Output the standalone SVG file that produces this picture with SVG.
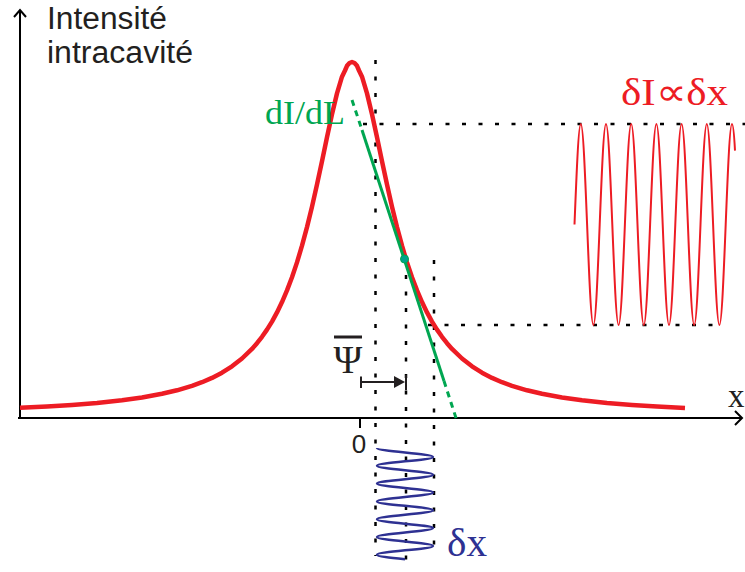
<svg xmlns="http://www.w3.org/2000/svg" width="745" height="572" viewBox="0 0 745 572">
<style>
.axis{stroke:#000;stroke-width:2;fill:none}
.dot{stroke:#000;stroke-width:2.5;stroke-dasharray:4 12.5;fill:none}
.sans{font-family:"Liberation Sans",Arial,sans-serif;fill:#231f20}
.serif{font-family:"Liberation Serif","Times New Roman",serif}
</style>
<rect width="745" height="572" fill="#fff"/>
<g id="guides">
<line class="dot" x1="375.5" y1="60" x2="375.5" y2="556"/>
<line class="dot" x1="406" y1="275" x2="406" y2="568"/>
<line class="dot" x1="434" y1="260" x2="434" y2="549"/>
<line class="dot" x1="363" y1="124" x2="745" y2="124"/>
<line class="dot" x1="428" y1="325" x2="725" y2="325"/>
</g>
<g id="axes">
<line class="axis" x1="20" y1="418" x2="20" y2="11"/>
<polyline class="axis" points="14,17 20,10 26,17"/>
<line class="axis" x1="18" y1="418" x2="742" y2="418"/>
<polyline class="axis" points="735,411 742,418 735,425"/>
<line class="axis" x1="360" y1="418" x2="360" y2="428"/>
</g>
<g id="lorentzian">
<polyline fill="none" stroke="#ed1c24" stroke-width="4.5" stroke-linejoin="round" stroke-linecap="butt" points="20,407.8 47,406.5 72,404.9 97,402.9 122,400.3 142,397.5 162,393.8 177,390.3 192,385.9 202,382.2 212,377.9 222,372.65 232,366.3 242,358.5 252,348.9 257,343.2 262,336.8 267,329.65 272,321.6 277,312.4 282,302.1 287,290.4 292,277.2 297,262.4 302,245.7 307,227.1 312,206.7 317,184.5 322,161.2 327,137.3 332,114.2 337,93.4 342,76.7 345,70.5 347,65.8 349.5,63 352,62 354.5,63 357,65.8 359,70.5 362,76.7 367,93.4 372,114.2 377,137.3 382,161.2 387,184.5 392,206.7 397,227.1 402,245.7 407,262.4 412,277.2 417,290.4 422,302.1 427,312.4 432,321.6 437,329.65 442,336.8 447,343.2 452,348.9 462,358.5 472,366.3 482,372.65 492,377.9 502,382.2 512,385.9 527,390.3 542,393.8 562,397.5 582,400.3 607,402.9 632,404.9 657,406.5 685,407.9"/>
</g>
<g id="tangent">
<line x1="352" y1="100" x2="362" y2="130" stroke="#00a651" stroke-width="3" stroke-dasharray="6 5"/>
<line x1="362" y1="130" x2="444" y2="381" stroke="#00a651" stroke-width="3"/>
<line x1="444" y1="381" x2="457" y2="421" stroke="#00a651" stroke-width="3" stroke-dasharray="6 5"/>
<circle cx="404.5" cy="259" r="4" fill="#00a38a" stroke="#00a651" stroke-width="1"/>
</g>
<g id="intensity-signal">
<path fill="none" stroke="#ed1c24" stroke-width="2" d="M574.5,224.5
c2.054,-51.5 4.02,-100.5 6.3,-100.5 c2.28,0 4.246,49 6.3,100.5 c2.054,51.5 4.02,100.5 6.3,100.5 c2.28,0 4.246,-49 6.3,-100.5
c2.054,-51.5 4.02,-100.5 6.3,-100.5 c2.28,0 4.246,49 6.3,100.5 c2.054,51.5 4.02,100.5 6.3,100.5 c2.28,0 4.246,-49 6.3,-100.5
c2.054,-51.5 4.02,-100.5 6.3,-100.5 c2.28,0 4.246,49 6.3,100.5 c2.054,51.5 4.02,100.5 6.3,100.5 c2.28,0 4.246,-49 6.3,-100.5
c2.054,-51.5 4.02,-100.5 6.3,-100.5 c2.28,0 4.246,49 6.3,100.5 c2.054,51.5 4.02,100.5 6.3,100.5 c2.28,0 4.246,-49 6.3,-100.5
c2.054,-51.5 4.02,-100.5 6.3,-100.5 c2.28,0 4.246,49 6.3,100.5 c2.054,51.5 4.02,100.5 6.3,100.5 c2.28,0 4.246,-49 6.3,-100.5
c2.054,-51.5 4.02,-100.5 6.3,-100.5 c2.28,0 4.246,49 6.3,100.5 c2.054,51.5 4.02,100.5 6.3,100.5 c2.28,0 4.246,-49 6.3,-100.5
c2.054,-51.5 4.02,-100.5 6.3,-100.5 c1.2,0 2.2,12 3,26.6"/>
</g>
<g id="position-signal">
<path fill="none" stroke="#2e3192" stroke-width="2.5" d="M377,448
c0,1.61 13.65,3 28,4.45 c14.34,1.45 28,2.84 28,4.45 c0,1.61 -13.65,3 -28,4.45 c-14.34,1.45 -28,2.84 -28,4.45
c0,1.61 13.65,3 28,4.45 c14.34,1.45 28,2.84 28,4.45 c0,1.61 -13.65,3 -28,4.45 c-14.34,1.45 -28,2.84 -28,4.45
c0,1.61 13.65,3 28,4.45 c14.34,1.45 28,2.84 28,4.45 c0,1.61 -13.65,3 -28,4.45 c-14.34,1.45 -28,2.84 -28,4.45
c0,1.61 13.65,3 28,4.45 c14.34,1.45 28,2.84 28,4.45 c0,1.61 -13.65,3 -28,4.45 c-14.34,1.45 -28,2.84 -28,4.45
c0,1.61 13.65,3 28,4.45 c14.34,1.45 28,2.84 28,4.45 c0,1.61 -13.65,3 -28,4.45 c-14.34,1.45 -28,2.84 -28,4.45
c0,1.61 13.65,3 28,4.45 c14.34,1.45 28,2.84 28,4.45 c0,1.61 -13.65,3 -28,4.45 c-14.34,1.45 -28,2.84 -28,4.45
c0,1.61 13.65,3 28,4.45"/>
</g>
<g id="psi-offset">
<line x1="361" y1="382" x2="396" y2="382" stroke="#231f20" stroke-width="2"/>
<line x1="361" y1="376.5" x2="361" y2="388" stroke="#231f20" stroke-width="2"/>
<polygon points="394,376 405,382 394,388" fill="#231f20"/>
<line x1="406" y1="375" x2="406" y2="390" stroke="#231f20" stroke-width="2"/>
<line x1="334" y1="337" x2="362" y2="337" stroke="#231f20" stroke-width="3"/>
<text class="serif" x="348" y="373" font-size="39" text-anchor="middle" fill="#231f20">Ψ</text>
</g>
<g id="labels">
<text class="sans" x="47" y="29" font-size="31" textLength="120" lengthAdjust="spacingAndGlyphs">Intensité</text>
<text class="sans" x="47" y="63" font-size="31" textLength="146" lengthAdjust="spacingAndGlyphs">intracavité</text>
<text class="serif" x="265" y="124" font-size="34" fill="#00a651" textLength="80" lengthAdjust="spacingAndGlyphs">dI/dL</text>
<text class="serif" x="621" y="105" font-size="38" fill="#ed1c24" textLength="107" lengthAdjust="spacingAndGlyphs">δI∝δx</text>
<text class="serif" x="447" y="556" font-size="40" fill="#2e3192" textLength="40" lengthAdjust="spacingAndGlyphs">δx</text>
<text class="sans" x="359" y="453" font-size="26" text-anchor="middle">0</text>
<text class="serif" x="728" y="407" font-size="33" fill="#231f20">x</text>
</g>
</svg>
